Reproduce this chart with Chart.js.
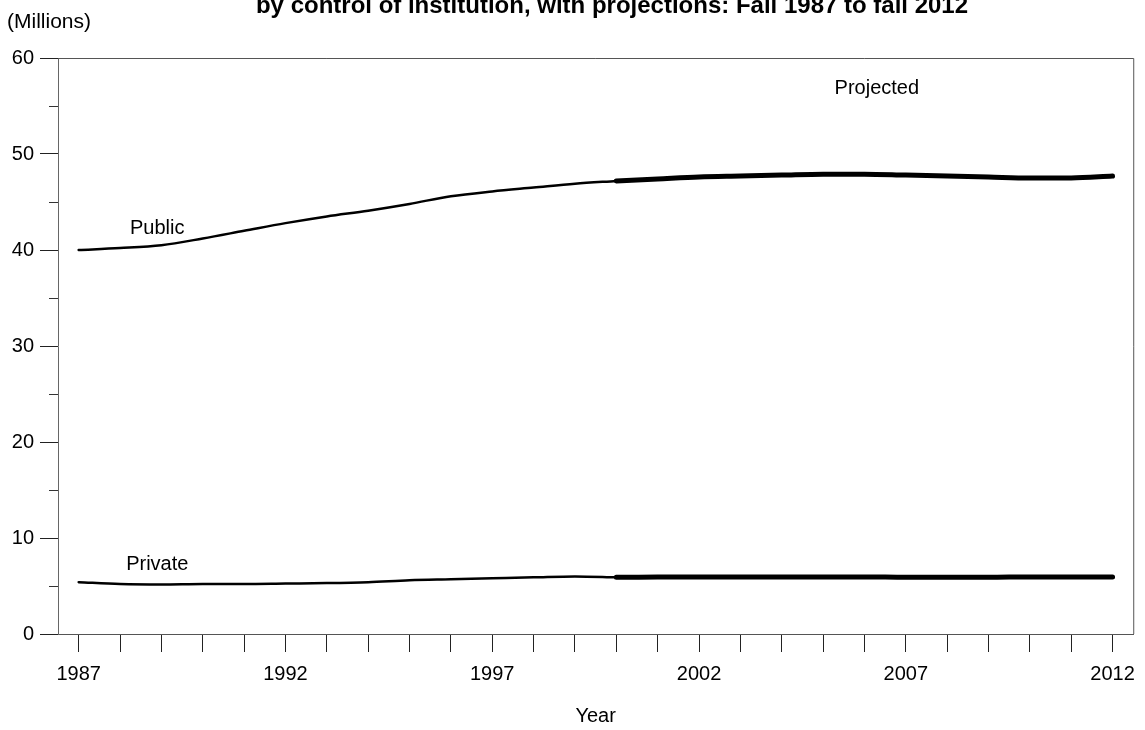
<!DOCTYPE html>
<html>
<head>
<meta charset="utf-8">
<script src="https://cdn.jsdelivr.net/npm/chart.js@4/dist/chart.umd.min.js"></script>
<style>
  html, body { margin: 0; padding: 0; background: #fff; }
  #wrap { position: relative; width: 1145px; height: 730px; }
</style>
</head>
<body>
<div id="wrap"><canvas id="enrollChart" width="1145" height="730"></canvas></div>
<script>
// Years on the x axis
const years = [1987, 1988, 1989, 1990, 1991, 1992, 1993, 1994, 1995, 1996, 1997, 1998, 1999,
               2000, 2001, 2002, 2003, 2004, 2005, 2006, 2007, 2008, 2009, 2010, 2011, 2012];

// Enrollment in millions (actual through 2000, projected from 2000)
const publicActual = [40.0, 40.2, 40.5, 41.2, 42.0, 42.8, 43.5, 44.1, 44.8, 45.6, 46.1, 46.5, 46.9, 47.2];
const publicProjected = [47.2, 47.4, 47.6, 47.7, 47.8, 47.9, 47.9, 47.8, 47.7, 47.6, 47.5, 47.5, 47.7];
const privateActual = [5.4, 5.2, 5.15, 5.2, 5.2, 5.25, 5.3, 5.4, 5.6, 5.7, 5.8, 5.9, 6.0, 5.9];
const privateProjected = [5.9, 5.95, 5.95, 5.95, 5.95, 5.95, 5.95, 5.9, 5.9, 5.9, 5.95, 5.95, 5.95];

const yTicks = [0, 10, 20, 30, 40, 50, 60];
const yMinorTicks = [5, 15, 25, 35, 45, 55];

// pad actual / projected series to the full year range
const padTail = arr => arr.concat(Array(years.length - arr.length).fill(null));
const padHead = arr => Array(years.length - arr.length).fill(null).concat(arr);

const FONT = "'Liberation Sans', Arial, sans-serif";

// Titles, line labels, minor ticks and plot frame
const extras = {
    id: "extras",
    afterDraw(chart) {
        const { ctx, chartArea, scales } = chart;
        const x = scales.x, y = scales.y;
        ctx.save();

        // box around the plot
        ctx.strokeStyle = "#555";
        ctx.lineWidth = 1;
        ctx.beginPath();
        ctx.moveTo(chartArea.left, chartArea.top + 0.5);
        ctx.lineTo(chartArea.right + 0.5, chartArea.top + 0.5);
        ctx.lineTo(chartArea.right + 0.5, chartArea.bottom);
        ctx.stroke();

        // minor y ticks
        ctx.strokeStyle = "#333";
        yMinorTicks.forEach(v => {
            const py = Math.round(y.getPixelForValue(v)) + 0.5;
            ctx.beginPath();
            ctx.moveTo(chartArea.left - 9, py);
            ctx.lineTo(chartArea.left, py);
            ctx.stroke();
        });

        ctx.fillStyle = "#000";
        ctx.textBaseline = "alphabetic";

        // chart title (top line falls outside the picture)
        ctx.font = "bold 24px " + FONT;
        ctx.textAlign = "center";
        ctx.fillText("by control of institution, with projections: Fall 1987 to fall 2012", 612, 13);

        ctx.font = "21px " + FONT;
        ctx.textAlign = "left";
        ctx.fillText("(Millions)", 7, 28);

        // series labels
        ctx.font = "20px " + FONT;
        ctx.textAlign = "center";
        ctx.textBaseline = "middle";
        ctx.fillText("Public", x.getPixelForValue(1.9), y.getPixelForValue(42.2));
        ctx.fillText("Private", x.getPixelForValue(1.9), y.getPixelForValue(7.2));
        ctx.fillText("Projected", x.getPixelForValue(19.3), y.getPixelForValue(56.8));

        ctx.restore();
    }
};

function renderChart() {
    const ctx = document.getElementById("enrollChart").getContext("2d");
    const line = (data, width) => ({
        data: data,
        borderColor: "#000",
        borderWidth: width,
        pointRadius: 0,
        borderCapStyle: "round",
        cubicInterpolationMode: "monotone",
        fill: false
    });

    new Chart(ctx, {
        type: "line",
        data: {
            labels: years,
            datasets: [
                line(padTail(publicActual), 2.5),
                line(padHead(publicProjected), 5),
                line(padTail(privateActual), 2.5),
                line(padHead(privateProjected), 5)
            ]
        },
        options: {
            responsive: false,
            animation: false,
            layout: { padding: { top: 58, right: 10, bottom: 2, left: 0 } },
            plugins: {
                legend: { display: false },
                tooltip: { enabled: false }
            },
            scales: {
                x: {
                    type: "category",
                    offset: true,
                    afterFit: s => { s.height = 94; },
                    grid: {
                        offset: false,
                        drawOnChartArea: false,
                        tickLength: 18,
                        tickColor: "#222"
                    },
                    border: { color: "#555" },
                    ticks: {
                        autoSkip: false,
                        maxRotation: 0,
                        padding: 10,
                        color: "#000",
                        font: { family: FONT, size: 20 },
                        callback: (val, i) => ((years[i] - years[0]) % 5 === 0 ? String(years[i]) : "")
                    },
                    title: {
                        display: true,
                        text: "Year",
                        color: "#000",
                        font: { family: FONT, size: 20 },
                        padding: { top: 4, bottom: 0 }
                    }
                },
                y: {
                    min: yTicks[0],
                    max: yTicks[yTicks.length - 1],
                    afterFit: s => { s.width = 58; },
                    afterBuildTicks: s => { s.ticks = yTicks.map(v => ({ value: v })); },
                    grid: {
                        drawOnChartArea: false,
                        tickLength: 18,
                        tickColor: "#222"
                    },
                    border: { color: "#666" },
                    ticks: {
                        padding: 6,
                        color: "#000",
                        font: { family: FONT, size: 20 }
                    }
                }
            }
        },
        plugins: [extras]
    });
}

renderChart();
</script>
</body>
</html>
